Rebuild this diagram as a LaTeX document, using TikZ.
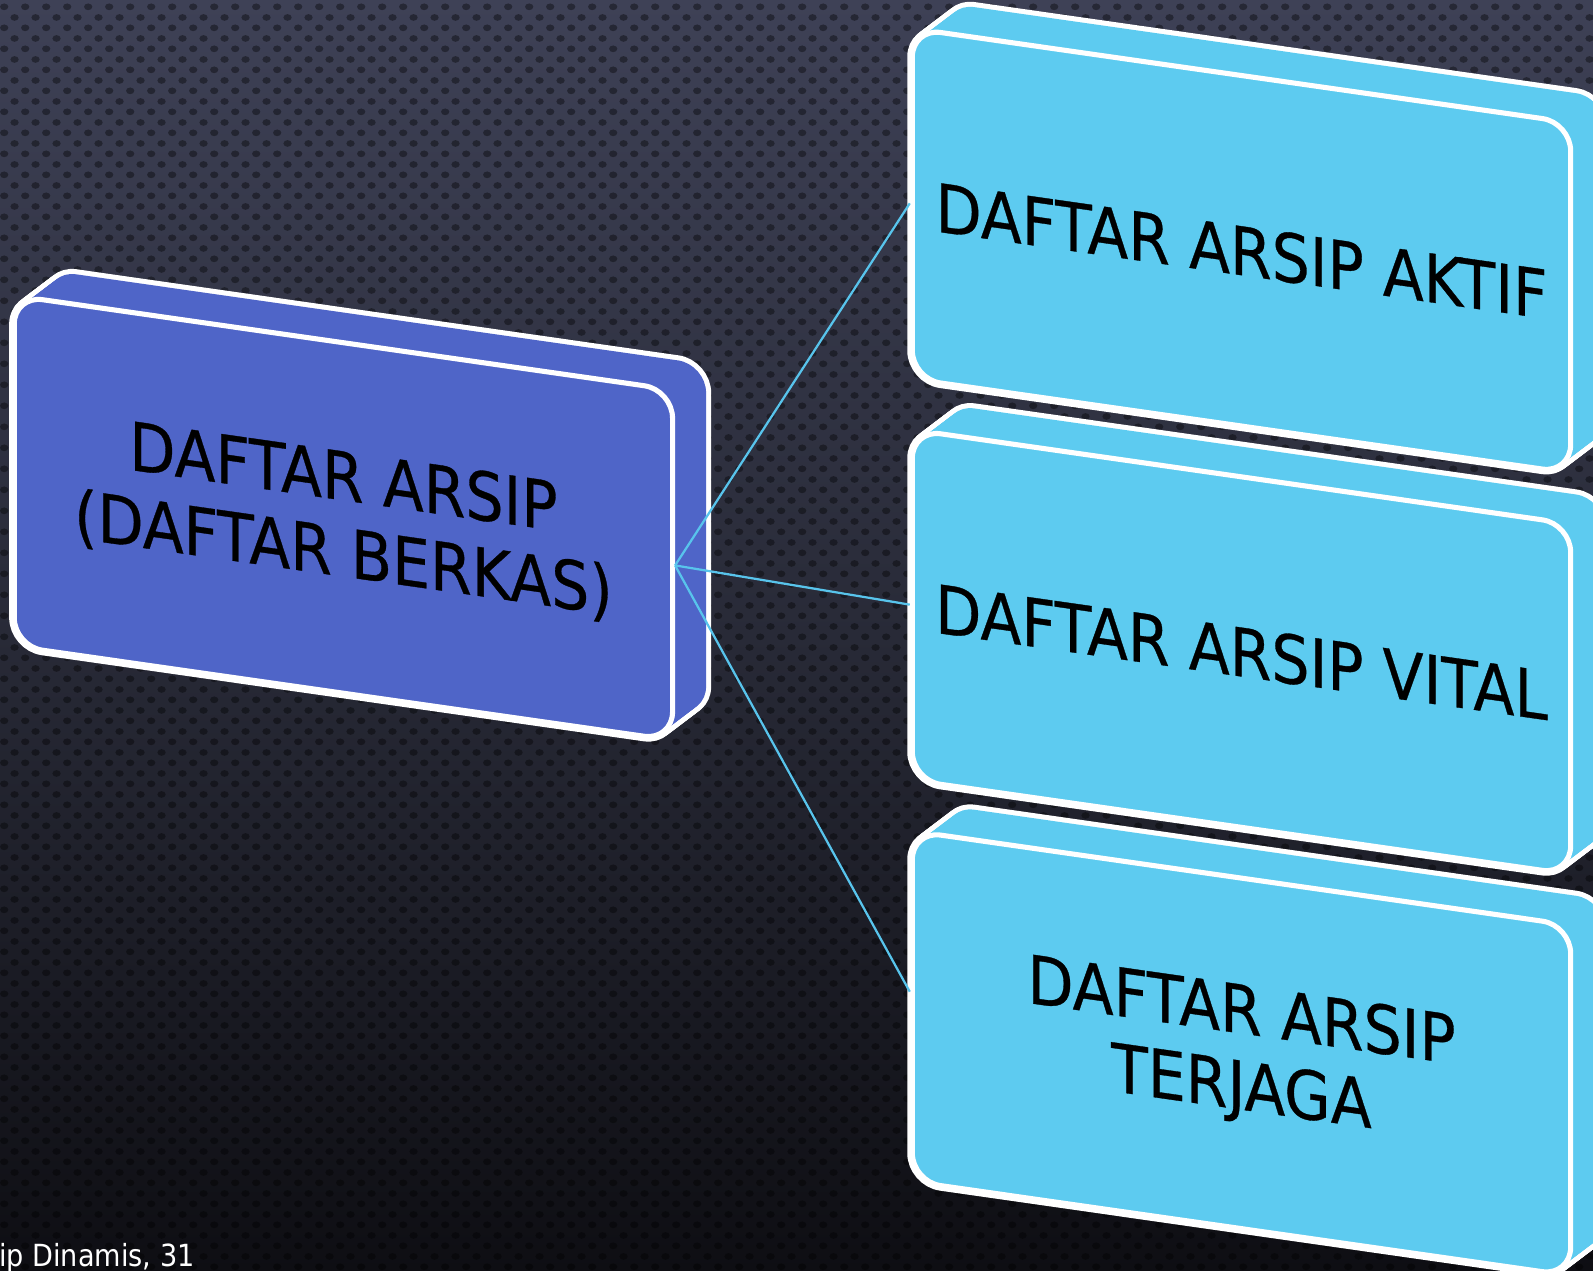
\documentclass[tikz,border=0pt]{standalone}
\usepackage{fontspec}
\setmainfont{DejaVu Sans}
\newfontfamily\slabfont{DejaVu Sans}[FakeBold=0.5]
\usetikzlibrary{calc,patterns.meta}

\definecolor{bgtop}{RGB}{62,65,86}
\definecolor{bgmid}{RGB}{40,42,55}
\definecolor{bgbot}{RGB}{14,14,19}
\definecolor{rootblue}{RGB}{79,101,200}
\definecolor{leafblue}{RGB}{93,203,240}
\definecolor{linkblue}{RGB}{88,196,236}

% perforated texture tile
\tikzdeclarepattern{
  name=perf,
  type=uncolored,
  bounding box={(0pt,0pt) and (21pt,21pt)},
  tile size={(21pt,21pt)},
  code={
    \fill (5.25pt,5.25pt) ellipse (4.2pt and 3.4pt);
    \fill (15.75pt,15.75pt) ellipse (4.2pt and 3.4pt);
  }
}

\tikzset{
  face/.style={draw=white, line width=5pt, rounded corners=28pt,
    minimum width=648pt, minimum height=345pt, inner sep=0pt, transform shape},
  boxtext/.style={font=\slabfont\fontsize{66}{75}\selectfont, align=center,
    text=black, xscale=0.895, transform shape},
  link/.style={draw=linkblue, line width=2.2pt},
  foottext/.style={font=\fontsize{30}{36}\selectfont, text=white,
    anchor=base west, xscale=0.89, inner sep=0pt},
}

% A slab in perspective: #1,#2 top-left of the front face, #3 colour,
% #4 node name, #5 label
\newcommand\slab[5]{%
  \begin{scope}[shift={(#1,#2)}, yslant=-0.143]
    \foreach \t in {0,...,20}{
      \draw[white, line width=10pt, rounded corners=28pt]
        ($\t/20*(33,-29.7)$) rectangle +(648,345);
    }
    \foreach \t in {0,...,20}{
      \fill[#3, rounded corners=28pt]
        ($\t/20*(33,-29.7)$) rectangle +(648,345);
    }
    \node[face, fill=#3] (#4) at (324,172.5) {};
    \node[boxtext] (#4-text) at (324,172.5) {#5};
  \end{scope}}

\begin{document}
\begin{tikzpicture}[x=1pt, y=-1pt]
  \useasboundingbox (0,0) rectangle (1568,1251);
  \clip (0,0) rectangle (1568,1251);

  % background gradient
  \shade[top color=bgtop, bottom color=bgbot, middle color=bgmid]
    (0,0) rectangle (1568,1251);
  \fill[pattern=perf, pattern color=black, fill opacity=0.38]
    (0,0) rectangle (1568,1251);

  % slabs
  \slab{14}{291}{rootblue}{root}{DAFTAR ARSIP\\(DAFTAR BERKAS)}
  \slab{898}{28}{leafblue}{aktif}{DAFTAR ARSIP AKTIF}
  \slab{898}{423}{leafblue}{vital}{DAFTAR ARSIP VITAL}
  \slab{898}{818}{leafblue}{terjaga}{DAFTAR ARSIP\\TERJAGA}

  % connectors
  \draw[link] (root.east) -- (aktif.west);
  \draw[link] (root.east) -- (vital.west);
  \draw[link] (root.east) -- ([yshift=14pt]terjaga.west);

  % footer
  \node[foottext] (foot) at (-1,1247) {ip Dinamis, 31};
\end{tikzpicture}
\end{document}
